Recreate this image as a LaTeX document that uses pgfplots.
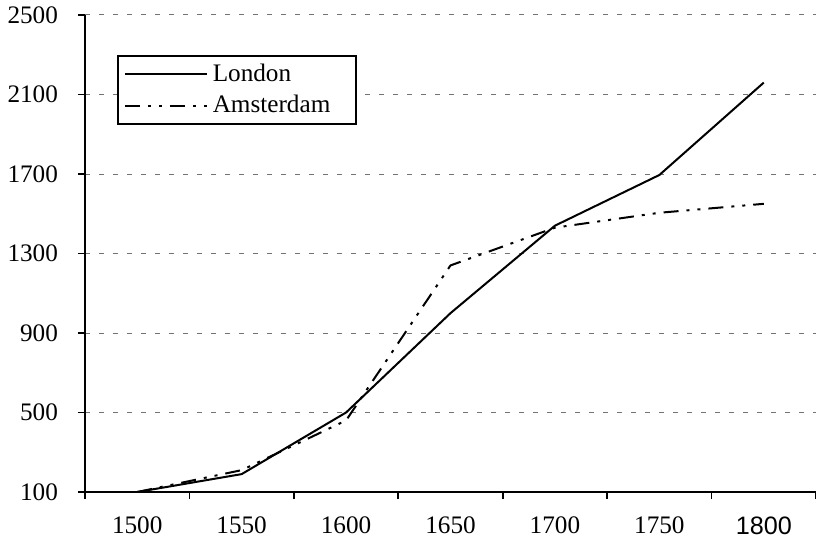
\documentclass[border=0pt]{standalone}
\usepackage{fontspec}
\setmainfont{Liberation Serif}
\setsansfont{Liberation Sans}
\usepackage{pgfplots}
\pgfplotsset{compat=1.18}
\pgfplotstableread{
x London Amsterdam
0 100 100
1 190 210
2 500 460
3 1000 1240
4 1440 1430
5 1695 1505
6 2160 1550
}\datatable
\begin{document}
\begin{tikzpicture}
\begin{axis}[
  scale only axis,
  width=365.5pt, height=238.5pt,
  xmin=-0.5, xmax=6.5,
  ymin=100, ymax=2500,
  axis lines*=left,
  axis line style={line width=1pt, -},
  every tick/.style={black, line width=0.9pt},
  tick align=outside,
  major tick length=3.5pt,
  xtick={-0.5,0.5,...,6.5},
  x tick label as interval,
  xticklabels={1500,1550,1600,1650,1700,1750,{\sffamily 1800}},
  ytick={100,500,...,2500},
  ymajorgrids,
  major grid style={black!55, line width=0.5pt, dash pattern=on 2.5pt off 4.5pt},
  /pgf/number format/assume math mode=true,
  /pgf/number format/1000 sep={},
  tick label style={font=\fontsize{12.6}{14}\selectfont, black},
  yticklabel style={xshift=-6.5pt},
  xticklabel style={yshift=-5.5pt},
  legend style={at={(rel axis cs:0,1)}, xshift=16pt, yshift=-20pt, anchor=north west,
    draw=black, line width=0.8pt, inner xsep=3pt, inner ysep=2pt,
    font=\fontsize{12.6}{14}\selectfont, row sep=1.5pt,
    nodes={inner xsep=2.5pt, text width=66pt}},
  legend cell align=left,
  legend image code/.code={\draw[#1] (0pt,0pt) -- (41pt,0pt);},
]
\addplot[black, line width=1pt] table[x=x, y=London] {\datatable};
\addlegendentry{London}
\addplot[black, line width=1pt, dash pattern=on 7.5pt off 4pt on 1.5pt off 4pt on 1.5pt off 4pt] table[x=x, y=Amsterdam] {\datatable};
\addlegendentry{Amsterdam}
\end{axis}
\pgfresetboundingbox
\path[use as bounding box] ([xshift=-42.5pt,yshift=-24.5pt]current axis.south west) rectangle ([yshift=7.5pt]current axis.north east);
\end{tikzpicture}
\end{document}
